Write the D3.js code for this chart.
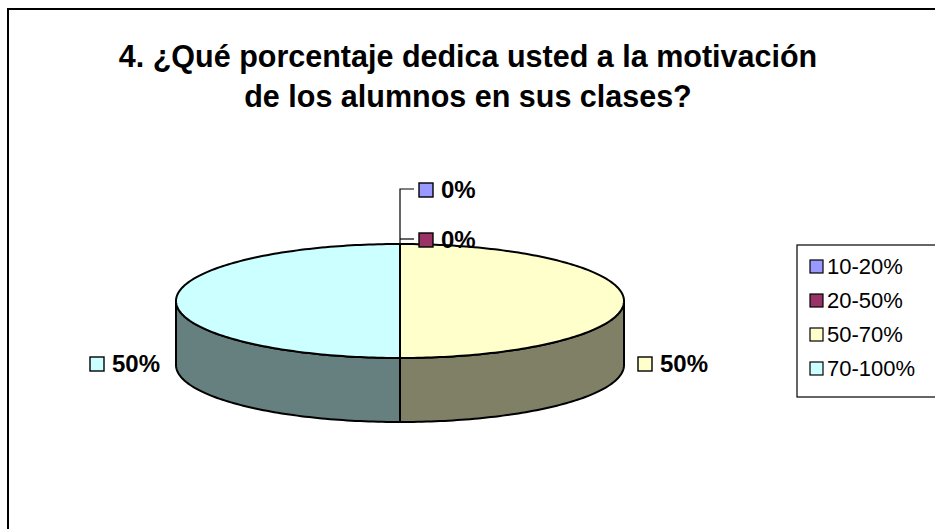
<!DOCTYPE html>
<html>
<head>
<meta charset="utf-8">
<script src="https://cdn.jsdelivr.net/npm/d3@7"></script>
<style>
  html, body { margin: 0; padding: 0; background: #fff; }
  svg { display: block; font-family: "Liberation Sans", Arial, sans-serif; }
</style>
</head>
<body>
<svg id="chart" width="935" height="529"></svg>
<script>
// Survey answers: share of class time spent motivating students
const categories = ["10-20%", "20-50%", "50-70%", "70-100%"];
const values = [0, 0, 50, 50];
const topColors = ["#9999FF", "#993366", "#FFFFCC", "#CCFFFF"];
const sideColors = ["#4d4d80", "#4d1a33", "#808066", "#668080"];
const titleLines = ["4. ¿Qué porcentaje dedica usted a la motivación", "de los alumnos en sus clases?"];

const svg = d3.select("#chart");

// Outer chart frame
svg.append("rect")
  .attr("x", 8).attr("y", 9).attr("width", 960).attr("height", 560)
  .attr("fill", "#fff").attr("stroke", "#000").attr("stroke-width", 2);

// Title
svg.append("g").selectAll("text").data(titleLines).join("text")
  .attr("x", 468).attr("y", (d, i) => 67 + i * 40)
  .attr("text-anchor", "middle")
  .attr("font-size", 30.5).attr("font-weight", "bold")
  .text(d => d);

// 3D pie geometry
const cx = 400, cy = 301, rx = 224, ry = 57, depth = 64;
const pie = d3.pie().sort(null).value(d => d)
  .startAngle(0).endAngle(2 * Math.PI);
const arcs = pie(values);

const pt = (a, dy = 0) => [cx + rx * Math.sin(a), cy - ry * Math.cos(a) + dy];

function arcPoints(a0, a1, dy) {
  const n = Math.max(2, Math.ceil(Math.abs(a1 - a0) / 0.02));
  return d3.range(n + 1).map(i => pt(a0 + (a1 - a0) * i / n, dy));
}

const line = d3.line();
const g = svg.append("g");

// Side walls: only the front half (angles between π/2 and 3π/2) is visible
arcs.forEach((d, i) => {
  const a0 = Math.max(d.startAngle, Math.PI / 2);
  const a1 = Math.min(d.endAngle, 3 * Math.PI / 2);
  if (a1 - a0 <= 1e-6) return;
  const top = arcPoints(a0, a1, 0);
  const bottom = arcPoints(a1, a0, depth);
  g.append("path")
    .attr("d", line(top.concat(bottom)) + "Z")
    .attr("fill", sideColors[i]).attr("stroke", "#000")
    .attr("stroke-width", 2).attr("stroke-linejoin", "round");
});

// Top faces
arcs.forEach((d, i) => {
  if (d.endAngle - d.startAngle <= 1e-6) return;
  const pts = [[cx, cy]].concat(arcPoints(d.startAngle, d.endAngle, 0));
  g.append("path")
    .attr("d", line(pts) + "Z")
    .attr("fill", topColors[i]).attr("stroke", "#000")
    .attr("stroke-width", 2).attr("stroke-linejoin", "round");
});

// Leader lines for the zero-size slices at the top of the pie
const leader = svg.append("g").attr("stroke", "#000").attr("stroke-width", 1.2).attr("fill", "none");
leader.append("path").attr("d", `M${cx},${cy - ry} V189 H414`);
leader.append("path").attr("d", `M${cx},239 H414`);

// Data labels with a colour key square
const labelG = svg.append("g").attr("font-size", 24).attr("font-weight", "bold");
function dataLabel(x, y, i, text) {
  labelG.append("rect")
    .attr("x", x).attr("y", y - 15).attr("width", 14).attr("height", 14)
    .attr("fill", topColors[i]).attr("stroke", "#000").attr("stroke-width", 1.4);
  labelG.append("text").attr("x", x + 22).attr("y", y).text(text);
}
const pctText = v => Math.round(v / d3.sum(values) * 100) + "%";

dataLabel(419, 198, 0, pctText(values[0]));
dataLabel(419, 248, 1, pctText(values[1]));
dataLabel(638, 372, 2, pctText(values[2]));
dataLabel(90, 372, 3, pctText(values[3]));

// Legend
const legend = svg.append("g");
legend.append("rect")
  .attr("x", 797).attr("y", 245).attr("width", 160).attr("height", 152)
  .attr("fill", "#fff").attr("stroke", "#000").attr("stroke-width", 1.2);
const items = legend.selectAll("g.item").data(categories).join("g")
  .attr("class", "item")
  .attr("transform", (d, i) => `translate(810, ${266 + i * 34})`);
items.append("rect")
  .attr("x", 0).attr("y", -6).attr("width", 13).attr("height", 13)
  .attr("fill", (d, i) => topColors[i]).attr("stroke", "#000").attr("stroke-width", 1.2);
items.append("text")
  .attr("x", 17).attr("y", 8)
  .attr("font-size", 22)
  .text(d => d);
</script>
</body>
</html>
